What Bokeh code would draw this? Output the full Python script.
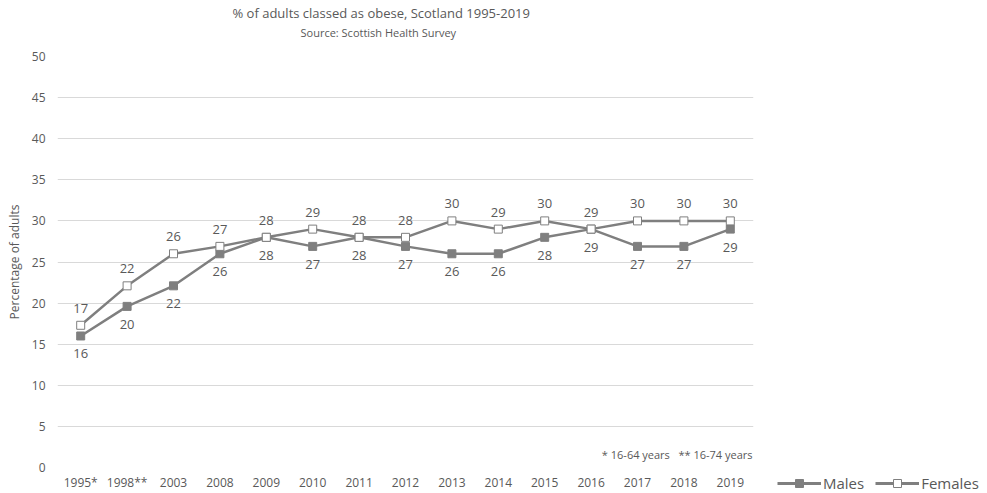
from bokeh.plotting import figure
from bokeh.models import (ColumnDataSource, LabelSet, Legend, LegendItem, Title,
                          FixedTicker, Range1d, FactorRange, Label)
from bokeh.layouts import row
from bokeh.core.properties import value
from bokeh.embed import file_html
from bokeh.resources import INLINE

years = ["1995*", "1998**", "2003", "2008", "2009", "2010", "2011", "2012",
         "2013", "2014", "2015", "2016", "2017", "2018", "2019"]
males = [16.0, 19.6, 22.1, 26.0, 28.0, 26.9, 28.0, 26.9, 26.0, 26.0, 28.0, 29.0, 26.9, 26.9, 29.0]
females = [17.3, 22.1, 26.0, 26.9, 28.0, 29.0, 28.0, 28.0, 30.0, 29.0, 30.0, 29.0, 30.0, 30.0, 30.0]
male_labels = ["16", "20", "22", "26", "28", "27", "28", "27", "26", "26", "28", "29", "27", "27", "29"]
female_labels = ["17", "22", "26", "27", "28", "29", "28", "28", "30", "29", "30", "29", "30", "30", "30"]
series_names = ["Males", "Females"]

FONT = "Open Sans"
TXT = "#595959"
LINE = "#7f7f7f"

src = ColumnDataSource(dict(x=years, m=males, f=females, ml=male_labels, fl=female_labels))

p = figure(width=760, height=493, x_range=FactorRange(*years, range_padding=0),
           y_range=Range1d(0, 50), output_backend="svg", toolbar_location=None, title=None,
           min_border_left=57, min_border_right=7, min_border_top=56, min_border_bottom=23)
p.outline_line_color = None
p.background_fill_color = "white"
p.border_fill_color = "white"
p.frame_align = False

p.xgrid.grid_line_color = None
p.ygrid.grid_line_color = "#d9d9d9"
p.ygrid.ticker = FixedTicker(ticks=list(range(0, 51, 5)))
p.yaxis.ticker = FixedTicker(ticks=list(range(0, 51, 5)))

for ax in (p.xaxis, p.yaxis):
    ax.axis_line_color = None
    ax.major_tick_line_color = None
    ax.minor_tick_line_color = None
    ax.major_tick_out = 0
    ax.major_tick_in = 0
    ax.minor_tick_out = 0
    ax.major_label_text_color = TXT
    ax.major_label_text_font = FONT
    ax.major_label_text_font_size = "12px"
p.xaxis.major_label_standoff = 6
p.yaxis.major_label_standoff = 12
p.yaxis.axis_label = "Percentage of adults"
p.yaxis.axis_label_text_font = FONT
p.yaxis.axis_label_text_font_size = "12px"
p.yaxis.axis_label_text_font_style = "normal"
p.yaxis.axis_label_text_color = TXT
p.yaxis.axis_label_standoff = 6

p.line("x", "m", source=src, line_color=LINE, line_width=2.5)
p.scatter("x", "m", source=src, marker="square", size=8, fill_color=LINE, line_color=LINE)
p.line("x", "f", source=src, line_color=LINE, line_width=2.5)
p.scatter("x", "f", source=src, marker="square", size=8, fill_color="white", line_color=LINE, line_width=1)

p.add_layout(LabelSet(x="x", y="m", text="ml", source=src, text_align="center", text_baseline="middle",
                      y_offset=-18, text_font=value(FONT), text_font_size=value("13px"), text_color=TXT))
p.add_layout(LabelSet(x="x", y="f", text="fl", source=src, text_align="center", text_baseline="middle",
                      y_offset=17, text_font=value(FONT), text_font_size=value("13px"), text_color=TXT))

p.add_layout(Label(x=695, y=13, x_units="screen", y_units="screen",
                   text="* 16-64 years\u00a0\u00a0\u00a0** 16-74 years",
                   text_align="right", text_baseline="middle", text_font=FONT, text_font_size="11px",
                   text_color=TXT))

p.add_layout(Title(text="Source: Scottish Health Survey\n\u00a0", align="left", offset=243,
                   text_font=FONT, text_font_size="11px", text_font_style="normal",
                   text_color=TXT, standoff=3), "above")
p.add_layout(Title(text="% of adults classed as obese, Scotland 1995-2019", align="left", offset=175,
                   text_font=FONT, text_font_size="13px", text_font_style="normal",
                   text_color=TXT, standoff=0), "above")

# legend panel (proxy renderers sit outside the visible range)
q = figure(width=227, height=493, x_range=Range1d(0, 1), y_range=Range1d(0, 1), title=None,
           x_axis_type=None, y_axis_type=None, output_backend="svg", toolbar_location=None,
           min_border_left=0, min_border_right=0, min_border_top=0, min_border_bottom=0)
q.outline_line_color = None
q.frame_align = False
q.xgrid.grid_line_color = None
q.ygrid.grid_line_color = None
proxy = ColumnDataSource(dict(x=[5, 6], y=[5, 6]))
lm = q.line("x", "y", source=proxy, line_color=LINE, line_width=3)
sm = q.scatter("x", "y", source=proxy, marker="square", size=9, fill_color=LINE, line_color=LINE)
lf = q.line("x", "y", source=proxy, line_color=LINE, line_width=3)
sf = q.scatter("x", "y", source=proxy, marker="square", size=9, fill_color="white", line_color=LINE)

legend = Legend(items=[LegendItem(label=series_names[0], renderers=[lm, sm]),
                       LegendItem(label=series_names[1], renderers=[lf, sf])],
                orientation="horizontal", location=(17, 0), label_text_font=FONT,
                label_text_font_size="15px", label_text_color=TXT, glyph_width=44,
                background_fill_alpha=0, border_line_color=None, spacing=11,
                padding=0, margin=0, label_standoff=2)
q.add_layout(legend, "center")

open("out.html", "w").write(file_html(row(p, q), INLINE))
